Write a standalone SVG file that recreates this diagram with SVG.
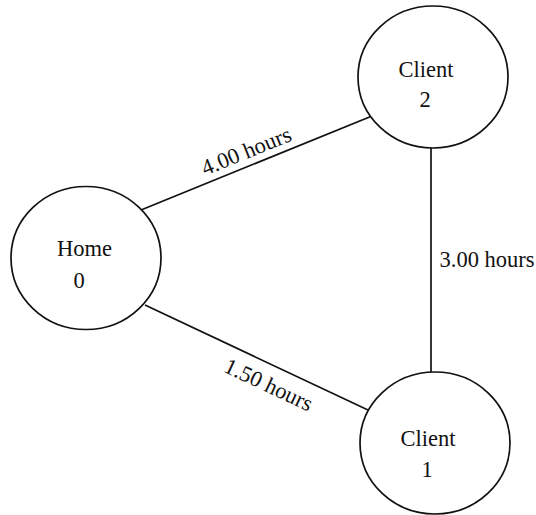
<svg xmlns="http://www.w3.org/2000/svg" width="536" height="515" viewBox="0 0 536 515">
<style>
.node{fill:#fff;stroke:#111;stroke-width:1.7}
.edge{stroke:#111;stroke-width:1.7;fill:none}
text{font-family:"Liberation Serif","DejaVu Serif",serif;font-size:22.5px;fill:#111;text-anchor:middle}
</style>
<rect width="536" height="515" fill="#fff"/>
<g id="connectors">
<line class="edge" x1="141" y1="210" x2="372" y2="116"/>
<line class="edge" x1="145" y1="305" x2="368" y2="410"/>
<line class="edge" x1="431" y1="148" x2="431" y2="372"/>
<text transform="translate(249,158) rotate(-22.1)">4.00 hours</text>
<text transform="translate(265.5,391.5) rotate(25.2)">1.50 hours</text>
<text x="487" y="267">3.00 hours</text>
</g>
<g id="node0">
<ellipse class="node" cx="86" cy="258" rx="75" ry="71.5"/>
<text x="84.5" y="256">Home</text>
<text x="79" y="288">0</text>
</g>
<g id="node2">
<ellipse class="node" cx="433" cy="77" rx="75" ry="71"/>
<text x="426" y="77">Client</text>
<text x="425" y="107">2</text>
</g>
<g id="node1">
<ellipse class="node" cx="435" cy="443" rx="75" ry="71"/>
<text x="428" y="446">Client</text>
<text x="427" y="477">1</text>
</g>
</svg>
